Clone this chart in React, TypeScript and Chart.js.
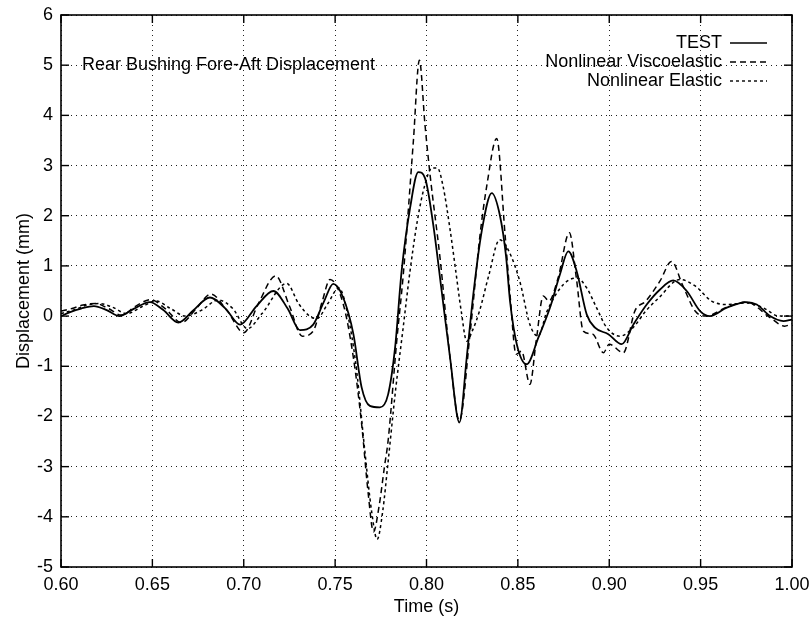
import React, { useEffect, useRef } from "react";
import { Chart, registerables } from "chart.js";

Chart.register(...registerables);

const FONT = "'Liberation Sans', Arial, Helvetica, sans-serif";

const chartTitle = "Rear Bushing Fore-Aft Displacement";
const seriesNames = ["TEST", "Nonlinear Viscoelastic", "Nonlinear Elastic"];
const xAxisTitle = "Time (s)";
const yAxisTitle = "Displacement (mm)";

// TEST (measured)
const testT = [0.600, 0.605, 0.611, 0.618, 0.625, 0.632, 0.640, 0.6487, 0.656, 0.6642, 0.672, 0.6815, 0.690, 0.698, 0.707, 0.7162, 0.724, 0.7308, 0.738, 0.744, 0.749, 0.7545, 0.760, 0.7645, 0.769, 0.7745, 0.779, 0.7828, 0.7864, 0.791, 0.7955, 0.7992, 0.8037, 0.8083, 0.8129, 0.818, 0.822, 0.8256, 0.8302, 0.8357, 0.8402, 0.8435, 0.8457, 0.8494, 0.8548, 0.8612, 0.8676, 0.873, 0.8776, 0.8822, 0.8877, 0.8922, 0.8995, 0.9068, 0.9132, 0.9205, 0.9278, 0.935, 0.9424, 0.9497, 0.9551, 0.9643, 0.9752, 0.9807, 0.988, 0.9953, 1.000];
const testV = [0.00, 0.08, 0.15, 0.20, 0.12, 0.00, 0.15, 0.28, 0.12, -0.13, 0.10, 0.37, 0.15, -0.17, 0.20, 0.50, 0.15, -0.28, -0.17, 0.30, 0.64, 0.36, -0.36, -1.42, -1.79, -1.82, -1.56, -0.63, 0.90, 2.15, 2.87, 2.75, 1.82, 0.50, -0.83, -2.12, -0.83, 0.43, 1.69, 2.45, 2.00, 1.20, 0.30, -0.56, -0.96, -0.43, 0.17, 0.83, 1.29, 0.89, 0.03, -0.23, -0.36, -0.56, -0.17, 0.23, 0.53, 0.71, 0.50, 0.10, 0.00, 0.17, 0.28, 0.23, 0.00, -0.10, -0.07];

// Nonlinear Viscoelastic model
const viscoT = [0.600, 0.606, 0.612, 0.619, 0.626, 0.633, 0.641, 0.649, 0.657, 0.666, 0.674, 0.682, 0.691, 0.700, 0.708, 0.7175, 0.725, 0.732, 0.738, 0.743, 0.7472, 0.7545, 0.760, 0.7645, 0.768, 0.771, 0.774, 0.777, 0.779, 0.7837, 0.7873, 0.7928, 0.7961, 0.7992, 0.802, 0.8074, 0.8129, 0.818, 0.8238, 0.8293, 0.833, 0.8384, 0.843, 0.8457, 0.849, 0.852, 0.8566, 0.860, 0.8639, 0.867, 0.872, 0.8782, 0.882, 0.8858, 0.891, 0.8968, 0.900, 0.9077, 0.914, 0.920, 0.9278, 0.9341, 0.940, 0.947, 0.953, 0.964, 0.975, 0.988, 0.996, 1.000];
const viscoV = [0.10, 0.15, 0.22, 0.25, 0.15, 0.02, 0.20, 0.33, 0.15, -0.13, 0.15, 0.44, 0.10, -0.33, 0.25, 0.80, 0.20, -0.40, -0.30, 0.30, 0.73, 0.23, -0.83, -2.15, -3.50, -4.30, -3.80, -3.00, -2.48, -0.50, 0.83, 3.48, 5.10, 3.80, 2.80, 1.16, -0.83, -2.08, -0.36, 1.62, 2.60, 3.54, 1.62, 0.43, -0.76, -0.70, -1.36, -0.50, 0.40, 0.30, 0.76, 1.66, 0.76, -0.30, -0.36, -0.73, -0.56, -0.73, 0.10, 0.30, 0.70, 1.09, 0.63, 0.10, 0.00, 0.17, 0.28, -0.03, -0.20, -0.15];

// Nonlinear Elastic model
const elasT = [0.600, 0.607, 0.614, 0.621, 0.628, 0.636, 0.644, 0.652, 0.660, 0.668, 0.677, 0.686, 0.694, 0.702, 0.710, 0.7235, 0.730, 0.736, 0.740, 0.746, 0.752, 0.758, 0.762, 0.766, 0.770, 0.773, 0.776, 0.779, 0.783, 0.787, 0.791, 0.795, 0.799, 0.803, 0.806, 0.809, 0.813, 0.816, 0.819, 0.822, 0.825, 0.829, 0.834, 0.840, 0.845, 0.851, 0.8566, 0.861, 0.866, 0.8749, 0.8822, 0.8877, 0.893, 0.8986, 0.9059, 0.913, 0.920, 0.927, 0.9387, 0.947, 0.956, 0.9643, 0.975, 0.984, 0.993, 1.000];
const elasV = [0.05, 0.12, 0.22, 0.25, 0.18, 0.05, 0.18, 0.30, 0.15, 0.00, 0.12, 0.32, 0.15, -0.25, 0.05, 0.65, 0.25, 0.00, -0.05, 0.25, 0.56, -0.17, -1.16, -2.60, -3.90, -4.45, -3.90, -2.90, -1.50, -0.30, 0.90, 1.90, 2.60, 2.95, 2.95, 2.60, 1.70, 0.90, 0.10, -0.50, -0.30, 0.10, 0.80, 1.52, 1.30, 0.70, -0.17, -0.40, 0.10, 0.63, 0.76, 0.56, 0.17, -0.23, -0.40, -0.23, 0.10, 0.36, 0.73, 0.60, 0.30, 0.23, 0.26, 0.17, 0.00, 0.00];

const xMin = 0.6, xMax = 1.0, xStep = 0.05;
const yMin = -5, yMax = 6, yStep = 1;

const dashes: number[][] = [[], [6, 4], [3, 3]];

const toPoints = (t: number[], v: number[]) => t.map((tt, i) => ({ x: tt, y: v[i] }));

const boxPlugin = {
  id: "boxPlugin",
  afterDatasetsDraw(chart: any) {
    const { ctx, chartArea, scales } = chart;
    const { left, right, top, bottom } = chartArea;
    const line = (x1: number, y1: number, x2: number, y2: number) => {
      ctx.beginPath();
      ctx.moveTo(x1, y1);
      ctx.lineTo(x2, y2);
      ctx.stroke();
    };
    ctx.save();
    ctx.setLineDash([]);
    ctx.strokeStyle = "#000";
    ctx.lineWidth = 1.6;
    ctx.strokeRect(left, top, right - left, bottom - top);
    ctx.lineWidth = 1.4;
    const tl = 8;
    scales.x.ticks.forEach((t: any) => {
      const px = scales.x.getPixelForValue(t.value);
      line(px, bottom, px, bottom - tl);
      line(px, top, px, top + tl);
    });
    scales.y.ticks.forEach((t: any) => {
      const py = scales.y.getPixelForValue(t.value);
      line(left, py, left + tl, py);
      line(right, py, right - tl, py);
    });
    // annotation title
    ctx.fillStyle = "#000";
    ctx.font = `18px ${FONT}`;
    ctx.textBaseline = "middle";
    ctx.textAlign = "left";
    ctx.fillText(chartTitle, left + 21, scales.y.getPixelForValue(5));
    // legend
    ctx.textAlign = "right";
    const textRight = right - 70;
    const lx1 = right - 62;
    const lx2 = right - 25;
    seriesNames.forEach((name, i) => {
      const ly = top + 28 + i * 19;
      ctx.fillText(name, textRight, ly);
      ctx.setLineDash(dashes[i]);
      ctx.lineWidth = 1.4;
      line(lx1, ly, lx2, ly);
    });
    ctx.restore();
  },
};

export default function App() {
  const canvasRef = useRef<HTMLCanvasElement | null>(null);

  useEffect(() => {
    if (!canvasRef.current) return;
    const series = [
      toPoints(testT, testV),
      toPoints(viscoT, viscoV),
      toPoints(elasT, elasV),
    ];
    const chart = new Chart(canvasRef.current, {
      type: "line",
      data: {
        datasets: series.map((pts, i) => ({
          label: seriesNames[i],
          data: pts,
          borderColor: "#000",
          backgroundColor: "#000",
          borderWidth: i === 0 ? 1.8 : 1.5,
          borderDash: dashes[i],
          pointRadius: 0,
          fill: false,
          cubicInterpolationMode: "monotone" as const,
        })),
      },
      options: {
        responsive: false,
        animation: false,
        parsing: false as any,
        layout: { padding: { left: 0, right: 17, top: 15, bottom: 0 } },
        plugins: {
          legend: { display: false },
          title: { display: false },
          tooltip: { enabled: false },
        },
        scales: {
          x: {
            type: "linear",
            min: xMin,
            max: xMax,
            afterFit: (s: any) => {
              s.height = 51;
              s.paddingLeft = 0;
              s.paddingRight = 0;
            },
            ticks: {
              stepSize: xStep,
              color: "#000",
              padding: 7,
              maxRotation: 0,
              autoSkip: false,
              font: { family: FONT, size: 18 },
              callback: (v: any) => Number(v).toFixed(2),
            },
            grid: {
              color: "#222",
              lineWidth: 1,
              drawTicks: false,
            },
            border: { display: false, dash: [1, 4] },
            title: {
              display: true,
              text: xAxisTitle,
              color: "#000",
              font: { family: FONT, size: 18 },
              padding: { top: 0, bottom: 0 },
            },
          },
          y: {
            type: "linear",
            min: yMin,
            max: yMax,
            afterFit: (s: any) => {
              s.width = 61;
              s.paddingTop = 0;
              s.paddingBottom = 0;
            },
            ticks: {
              stepSize: yStep,
              color: "#000",
              padding: 8,
              autoSkip: false,
              font: { family: FONT, size: 18 },
              callback: (v: any) => String(v),
            },
            grid: {
              color: "#222",
              lineWidth: 1,
              drawTicks: false,
            },
            border: { display: false, dash: [1, 4] },
            title: {
              display: true,
              text: yAxisTitle,
              color: "#000",
              font: { family: FONT, size: 18 },
              padding: { top: 13, bottom: 0 },
            },
          },
        },
      },
      plugins: [boxPlugin],
    });
    return () => chart.destroy();
  }, []);

  return (
    <div style={{ position: "absolute", left: 0, top: 0, width: 809, height: 618, background: "#fff" }}>
      <canvas ref={canvasRef} width={809} height={618} style={{ display: "block" }} />
    </div>
  );
}
